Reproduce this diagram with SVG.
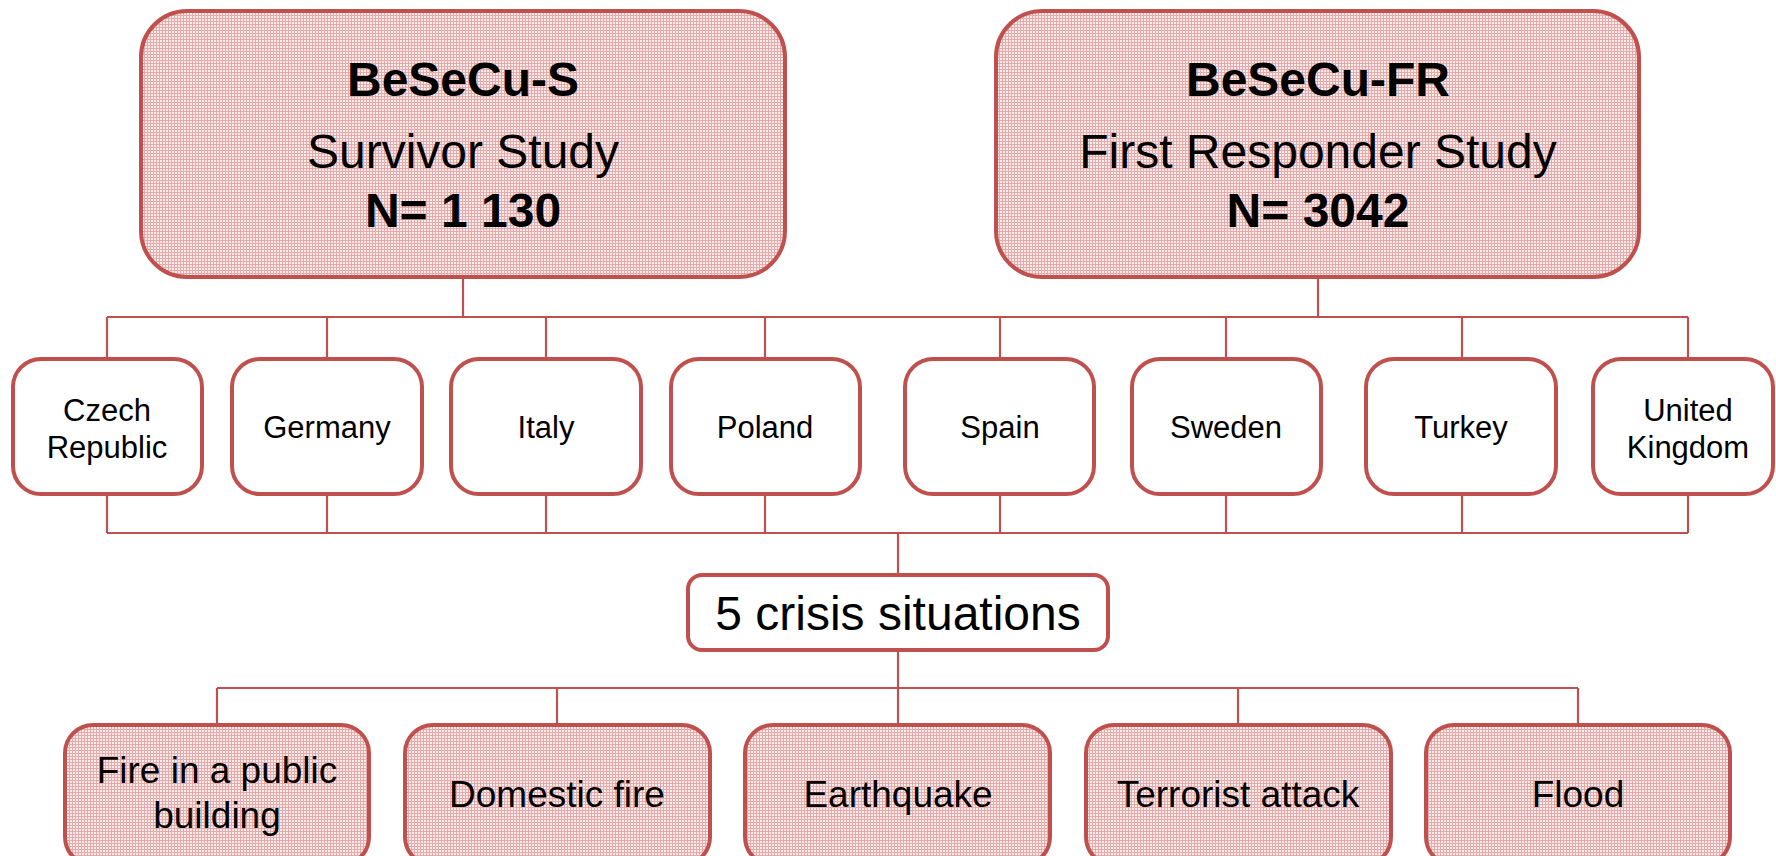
<svg xmlns="http://www.w3.org/2000/svg" width="1776" height="856" viewBox="0 0 1776 856">
<defs>
<pattern id="grid" width="3" height="3" patternUnits="userSpaceOnUse">
<rect width="3" height="3" fill="#fbecec"/>
<rect x="0" y="0" width="3" height="1" fill="#e6aaaa"/>
<rect x="0" y="0" width="1" height="3" fill="#e6aaaa"/>
</pattern>
</defs>
<style>
.study{fill:url(#grid);stroke:#C0504D;stroke-width:4}
.country{fill:#fff;stroke:#C0504D;stroke-width:4}
.crisis{fill:url(#grid);stroke:#C0504D;stroke-width:4}
.conn{fill:none;stroke:#C0504D;stroke-width:2.2}
text{font-family:"Liberation Sans",Arial,sans-serif;fill:#000;text-anchor:middle}
.big{font-size:48px}
.bold{font-weight:bold}
.c{font-size:31px}
.k{font-size:37px}
</style>
<rect width="1776" height="856" fill="#fff"/>
<g id="connectors">
<path class="conn" d="M463 277V317M1318 277V317M107 317H1688"/>
<path class="conn" d="M107 317V359M327 317V359M546 317V359M765 317V359M1000 317V359M1226 317V359M1462 317V359M1688 317V359"/>
<path class="conn" d="M107 494V533M327 494V533M546 494V533M765 494V533M1000 494V533M1226 494V533M1462 494V533M1688 494V533M107 533H1688M898 533V575"/>
<path class="conn" d="M898 650V688M217 688H1578M217 688V725M557 688V725M898 688V725M1238 688V725M1578 688V725"/>
</g>
<g id="besecu-s">
<rect class="study" x="141" y="11" width="644" height="266" rx="46"/>
<text class="big bold" x="463" y="96">BeSeCu-S</text>
<text class="big" x="463" y="168">Survivor Study</text>
<text class="big bold" x="463" y="227">N= 1 130</text>
</g>
<g id="besecu-fr">
<rect class="study" x="996" y="11" width="643" height="266" rx="46"/>
<text class="big bold" x="1318" y="96">BeSeCu-FR</text>
<text class="big" x="1318" y="168">First Responder Study</text>
<text class="big bold" x="1318" y="227">N= 3042</text>
</g>
<g id="czech">
<rect class="country" x="13" y="359" width="189" height="135" rx="28"/>
<text class="c" x="107" y="421">Czech</text>
<text class="c" x="107" y="458">Republic</text>
</g>
<g id="germany">
<rect class="country" x="232" y="359" width="190" height="135" rx="28"/>
<text class="c" x="327" y="438">Germany</text>
</g>
<g id="italy">
<rect class="country" x="451" y="359" width="190" height="135" rx="28"/>
<text class="c" x="546" y="438">Italy</text>
</g>
<g id="poland">
<rect class="country" x="671" y="359" width="189" height="135" rx="28"/>
<text class="c" x="765" y="438">Poland</text>
</g>
<g id="spain">
<rect class="country" x="905" y="359" width="189" height="135" rx="28"/>
<text class="c" x="1000" y="438">Spain</text>
</g>
<g id="sweden">
<rect class="country" x="1132" y="359" width="189" height="135" rx="28"/>
<text class="c" x="1226" y="438">Sweden</text>
</g>
<g id="turkey">
<rect class="country" x="1366" y="359" width="190" height="135" rx="28"/>
<text class="c" x="1461" y="438">Turkey</text>
</g>
<g id="uk">
<rect class="country" x="1593" y="359" width="180" height="135" rx="28"/>
<text class="c" x="1688" y="421">United</text>
<text class="c" x="1688" y="458">Kingdom</text>
</g>
<g id="crisis">
<rect class="country" x="688" y="575" width="420" height="75" rx="14"/>
<text class="big" x="898" y="630">5 crisis situations</text>
</g>
<g id="fire-public">
<rect class="crisis" x="65" y="725" width="304" height="140" rx="28"/>
<text class="k" x="217" y="783">Fire in a public</text>
<text class="k" x="217" y="828">building</text>
</g>
<g id="domestic-fire">
<rect class="crisis" x="405" y="725" width="305" height="140" rx="28"/>
<text class="k" x="557" y="807">Domestic fire</text>
</g>
<g id="earthquake">
<rect class="crisis" x="745" y="725" width="305" height="140" rx="28"/>
<text class="k" x="898" y="807">Earthquake</text>
</g>
<g id="terrorist">
<rect class="crisis" x="1086" y="725" width="305" height="140" rx="28"/>
<text class="k" x="1238" y="807">Terrorist attack</text>
</g>
<g id="flood">
<rect class="crisis" x="1426" y="725" width="304" height="140" rx="28"/>
<text class="k" x="1578" y="807">Flood</text>
</g>
</svg>
